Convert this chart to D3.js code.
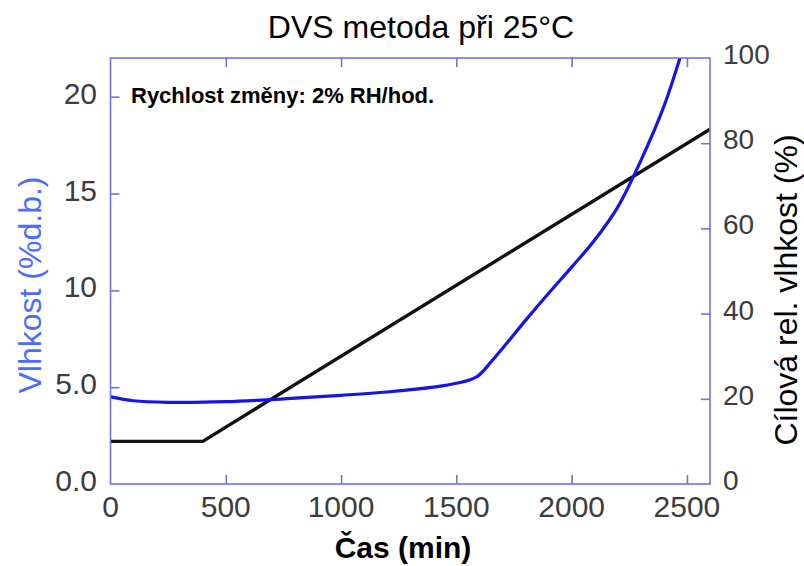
<!DOCTYPE html>
<html>
<head>
<meta charset="utf-8">
<script src="https://cdn.jsdelivr.net/npm/d3@7"></script>
<style>
  html, body { margin: 0; padding: 0; background: #fff; }
  svg { display: block; }
  text { font-family: "Liberation Sans", Arial, sans-serif; }
</style>
</head>
<body>
<svg id="chart" width="804" height="566"></svg>
<script>
// Sample moisture content (% dry basis) over time
const moistTime = [0, 100, 250, 500, 750, 1000, 1200, 1400, 1500, 1590, 1650, 1700, 1800, 1900, 2000, 2100, 2200, 2300, 2400, 2480];
const moistValue = [4.5, 4.3, 4.22, 4.25, 4.4, 4.58, 4.75, 5.0, 5.2, 5.55, 6.3, 7.0, 8.45, 9.85, 11.2, 12.6, 14.3, 16.7, 19.5, 22.4];

// Target relative humidity programme (hold, then ramp 2 % RH per hour)
const rhTime = [0, 400, 2600];
const rhTarget = [10, 10, 83.3];

// Axis ticks
const timeTicks = [0, 500, 1000, 1500, 2000, 2500];
const moistTicks = [0, 5, 10, 15, 20];
const moistTickLabels = ["0.0", "5.0", "10", "15", "20"];
const rhTicks = [0, 20, 40, 60, 80, 100];

const svg = d3.select("#chart");
const x0 = 110.5, x1 = 710, y0 = 484, y1 = 58;
const frameColor = "#7070ee";
const tickLen = 9;

const x = d3.scaleLinear().domain([0, 2600]).range([x0, x1]);
const yL = d3.scaleLinear().domain([0, 22]).range([y0, y1]);
const yR = d3.scaleLinear().domain([0, 100]).range([y0, y1]);

svg.append("defs").append("clipPath").attr("id", "plotClip")
  .append("rect").attr("x", x0).attr("y", y1).attr("width", x1 - x0).attr("height", y0 - y1);

// Title
svg.append("text").attr("x", 421).attr("y", 38).attr("text-anchor", "middle")
  .attr("font-size", 32).attr("fill", "#000").text("DVS metoda při 25°C");

// Frame ticks (pointing inward) on all four sides
function strip(g) { g.select(".domain").remove(); g.selectAll(".tick text").remove(); g.selectAll(".tick line").attr("stroke", frameColor).attr("stroke-width", 1.6); }
const inner = timeTicks.filter(d => d > 0);
svg.append("g").attr("transform", `translate(0,${y0})`)
  .call(d3.axisBottom(x).tickValues(inner).tickSize(-tickLen)).call(strip);
svg.append("g").attr("transform", `translate(0,${y1})`)
  .call(d3.axisTop(x).tickValues(inner).tickSize(-tickLen)).call(strip);
svg.append("g").attr("transform", `translate(${x0},0)`)
  .call(d3.axisLeft(yL).tickValues(moistTicks.filter(d => d > 0)).tickSize(-tickLen)).call(strip);
svg.append("g").attr("transform", `translate(${x1},0)`)
  .call(d3.axisRight(yR).tickValues(rhTicks.filter(d => d > 0 && d < 100)).tickSize(-tickLen)).call(strip);

// Lines
const plot = svg.append("g").attr("clip-path", "url(#plotClip)");
const moistLine = d3.line().x((d, i) => x(moistTime[i])).y(d => yL(d)).curve(d3.curveCatmullRom.alpha(0.5));
const rhLine = d3.line().x((d, i) => x(rhTime[i])).y(d => yR(d));

plot.append("path").datum(rhTarget).attr("d", rhLine)
  .attr("fill", "none").attr("stroke", "#111").attr("stroke-width", 3.4);
plot.append("path").datum(moistValue).attr("d", moistLine)
  .attr("fill", "none").attr("stroke", "#1515e6").attr("stroke-width", 3.2);

// Frame
svg.append("rect").attr("x", x0).attr("y", y1).attr("width", x1 - x0).attr("height", y0 - y1)
  .attr("fill", "none").attr("stroke", frameColor).attr("stroke-width", 1.6);

// Tick labels
const labelColor = "#3c3c3c";
svg.append("g").selectAll("text").data(timeTicks).join("text")
  .attr("x", d => x(d)).attr("y", 517).attr("text-anchor", "middle")
  .attr("font-size", 30).attr("fill", labelColor).text(d => d);
svg.append("g").selectAll("text").data(moistTicks).join("text")
  .attr("x", 97).attr("y", d => yL(d) + 7).attr("text-anchor", "end")
  .attr("font-size", 30).attr("fill", labelColor).text((d, i) => moistTickLabels[i]);
svg.append("g").selectAll("text").data(rhTicks).join("text")
  .attr("x", 723).attr("y", d => yR(d) + 6).attr("text-anchor", "start")
  .attr("font-size", 28).attr("fill", labelColor).text(d => d);

// Annotation
svg.append("text").attr("x", 131).attr("y", 103).attr("font-size", 22).attr("font-weight", "bold")
  .attr("fill", "#000").text("Rychlost změny: 2% RH/hod.");

// Axis titles
svg.append("text").attr("x", 403).attr("y", 558).attr("text-anchor", "middle")
  .attr("font-size", 30).attr("font-weight", "bold").attr("fill", "#000").text("Čas (min)");
svg.append("text").attr("transform", "translate(41,285) rotate(-90)").attr("text-anchor", "middle")
  .attr("font-size", 32).attr("fill", "#4a6cff").text("Vlhkost (%d.b.)");
svg.append("text").attr("transform", "translate(797,290) rotate(-90)").attr("text-anchor", "middle")
  .attr("font-size", 32).attr("fill", "#000").text("Cílová rel. vlhkost (%)");
</script>
</body>
</html>
